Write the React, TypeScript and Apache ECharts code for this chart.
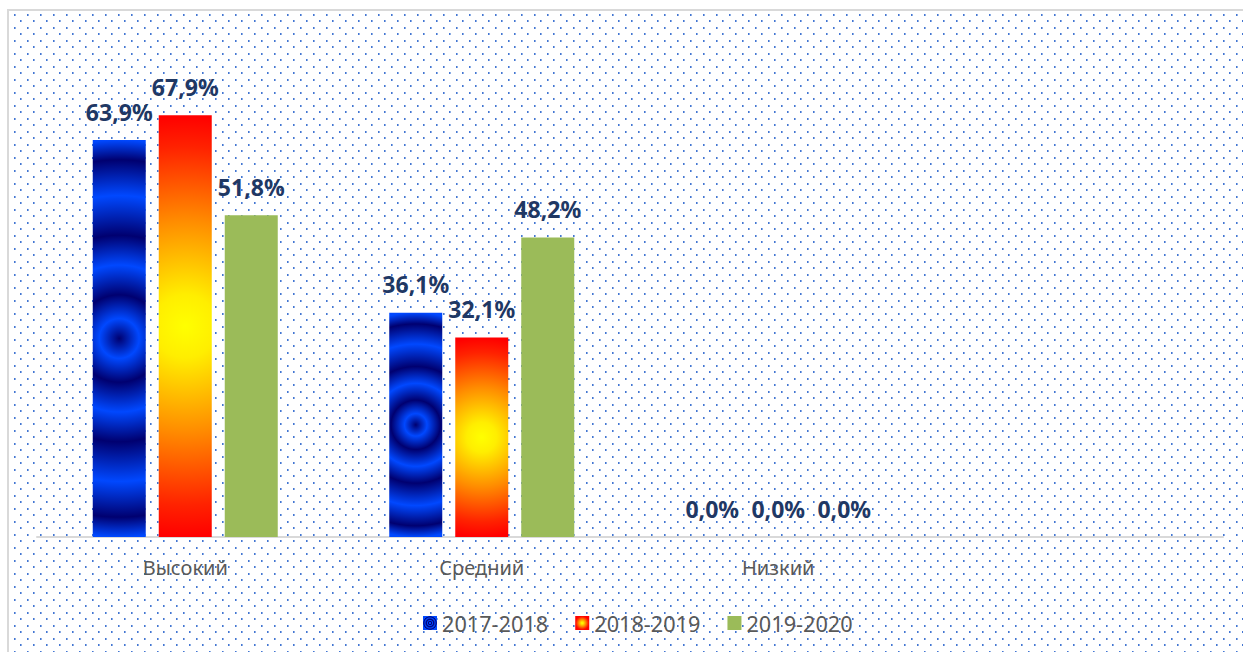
import React, { useEffect, useRef } from "react";
import * as echarts from "echarts";

// ---- data ----
const categories = ["Высокий", "Средний", "Низкий", ""];
const seriesNames = ["2017-2018", "2018-2019", "2019-2020"];
const values2017 = [63.9, 36.1, 0.0];
const values2018 = [67.9, 32.1, 0.0];
const values2019 = [51.8, 48.2, 0.0];

// ---- styles ----
const FONT = "'Noto Sans', 'DejaVu Sans', sans-serif";
const LABEL_COLOR = "#1f3864";
const TEXT_GREY = "#595959";
const GREEN = "#9bbb59";
const BAR_W = 53;
const BAR_GAP_PX = 13;

const BLUE_B = "#0048ff";
const BLUE_D = "#000070";
const blueStops = [
  { offset: 0, color: BLUE_D },
  { offset: 0.1, color: BLUE_B },
  { offset: 0.22, color: BLUE_D },
  { offset: 0.37, color: BLUE_B },
  { offset: 0.52, color: BLUE_D },
  { offset: 0.72, color: BLUE_B },
  { offset: 0.9, color: BLUE_D },
  { offset: 1, color: BLUE_B },
];
const fireStops = [
  { offset: 0, color: "#ffff00" },
  { offset: 0.15, color: "#ffee00" },
  { offset: 0.5, color: "#ff8c00" },
  { offset: 0.85, color: "#ff2200" },
  { offset: 1, color: "#ff0000" },
];

const radial = (stops: any[]) => ({
  type: "radial",
  x: 0.5,
  y: 0.5,
  r: 0.5,
  colorStops: stops,
});

if (typeof document !== "undefined") {
  document.body.style.margin = "0";
  document.body.style.overflow = "hidden";
}

function makeDotPattern() {
  const c = document.createElement("canvas");
  c.width = 13;
  c.height = 13;
  const ctx = c.getContext("2d")!;
  ctx.clearRect(0, 0, 13, 13);
  ctx.fillStyle = "rgba(80,130,215,0.65)";
  ctx.fillRect(1, 1, 2, 2);
  ctx.fillRect(7, 7, 2, 2);
  ctx.fillStyle = "rgba(68,118,210,1)";
  ctx.fillRect(1, 1, 1, 2);
  ctx.fillRect(7, 7, 1, 2);
  return c;
}

const fmt = (p: any) =>
  p.value == null ? "" : Number(p.value).toFixed(1).replace(".", ",") + "%";

export default function App() {
  const ref = useRef<HTMLDivElement>(null);

  useEffect(() => {
    document.body.style.margin = "0";
    const chart = echarts.init(ref.current!, undefined, { renderer: "svg" });
    const pattern = makeDotPattern();

    const labelCfg = {
      show: true,
      position: "top",
      distance: 17,
      formatter: fmt,
      color: LABEL_COLOR,
      fontFamily: FONT,
      fontWeight: "bold",
      fontSize: 23,
    };

    const vals = [values2017, values2018, values2019];
    const colors = [radial(blueStops), radial(fireStops), GREEN];

    chart.setOption({
      animation: false,
      backgroundColor: "#ffffff",
      graphic: [
        {
          type: "rect",
          silent: true,
          z: -10,
          shape: { x: 9, y: 11, width: 1260, height: 660 },
          style: {
            fill: { image: pattern, repeat: "repeat", imageWidth: 13, imageHeight: 13 },
          },
        },
        {
          type: "rect",
          silent: true,
          z: -9,
          shape: { x: 8, y: 10, width: 1260, height: 660 },
          style: { fill: "none", stroke: "#d9d9d9", lineWidth: 2 },
        },
      ],
      grid: { left: 37, right: 20, top: 40, bottom: 115, containLabel: false },
      legend: {
        left: 418,
        top: 607,
        itemWidth: 14,
        itemHeight: 14,
        itemGap: 27,
        icon: "rect",
        data: seriesNames,
        textStyle: { color: TEXT_GREY, fontFamily: FONT, fontSize: 21.7 },
      },
      xAxis: {
        type: "category",
        data: categories,
        axisLine: { show: true, lineStyle: { color: "#d9d9d9", width: 2 } },
        axisTick: { show: false },
        axisLabel: { color: TEXT_GREY, fontFamily: FONT, fontSize: 20, margin: 20 },
        splitLine: { show: false },
      },
      yAxis: {
        type: "value",
        min: 0,
        max: 80,
        show: false,
        splitLine: { show: false },
      },
      series: seriesNames.map((name, si) => ({
        name,
        type: "bar",
        barWidth: BAR_W,
        barGap: (BAR_GAP_PX / BAR_W) * 100 + "%",
        itemStyle: { color: colors[si] },
        label: labelCfg,
        data: vals[si],
      })),
    });

    // per-bar circular gradients, centred on each bar as laid out by ECharts
    const applyGradients = () => {
      const updates: any[] = [];
      [0, 1].forEach((si) => {
        const stops = si === 0 ? blueStops : fireStops;
        const src = vals[si];
        const items: any[] = [];
        let data: any = null;
        try {
          data = (chart as any).getModel().getSeriesByIndex(si).getData();
        } catch (e) {
          data = null;
        }
        for (let i = 0; i < src.length; i++) {
          let cx: number, cy: number, r: number;
          const l = data ? data.getItemLayout(i) : null;
          if (l && l.height) {
            cx = l.x + l.width / 2;
            cy = l.y + l.height / 2;
            r = Math.abs(l.height) / 2;
          } else {
            const xc = chart.convertToPixel({ xAxisIndex: 0 }, i) as number;
            const y0 = chart.convertToPixel({ yAxisIndex: 0 }, 0) as number;
            const y1 = chart.convertToPixel({ yAxisIndex: 0 }, src[i]) as number;
            cx = xc + (si - 1) * (BAR_W + BAR_GAP_PX);
            cy = (y0 + y1) / 2;
            r = Math.abs(y0 - y1) / 2;
          }
          if (!r) {
            items.push(src[i]);
            continue;
          }
          items.push({
            value: src[i],
            itemStyle: {
              color: { type: "radial", x: cx, y: cy, r, global: true, colorStops: stops },
            },
          });
        }
        updates.push({ data: items });
      });
      chart.setOption({ series: updates });
    };
    applyGradients();

    return () => {
      chart.dispose();
    };
  }, []);

  return <div ref={ref} style={{ width: 1243, height: 652 }} />;
}
